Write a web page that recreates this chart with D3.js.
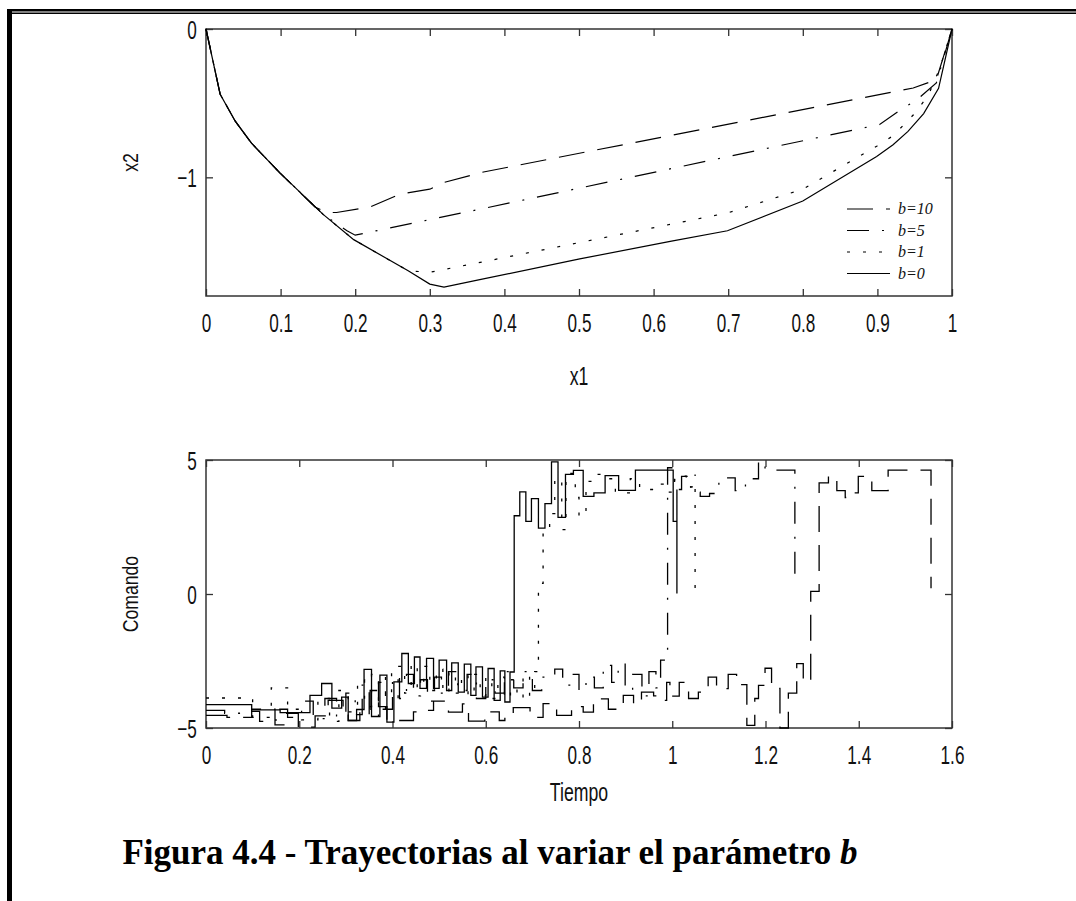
<!DOCTYPE html>
<meta charset="utf-8">
<style>
	body { margin: 0; background: #fff; }
	.tick text, .lab { font-family: "Liberation Sans", Arial, sans-serif; fill: #111; }
	.leg { font-family: "Liberation Serif", "Times New Roman", serif; font-style: italic; font-size: 16px; fill: #111; }
	.title { font-family: "Liberation Serif", "Times New Roman", serif; font-weight: bold; font-size: 35px; fill: #000; }
</style>
<body>
<svg id="fig" width="1076" height="901"></svg>

<script src="https://d3js.org/d3.v7.min.js"></script>
<script>
	// ---- upper plot: phase plane x1 / x2 ----
	var x1_b0 = [0, 0.019, 0.039, 0.061, 0.099, 0.157, 0.198, 0.271, 0.300, 0.319, 0.367, 0.501, 0.624, 0.699, 0.800, 0.899, 0.921, 0.941, 0.962, 0.982, 1.0];
	var x2_b0 = [0, -0.44, -0.62, -0.77, -0.97, -1.25, -1.42, -1.63, -1.72, -1.74, -1.69, -1.55, -1.43, -1.36, -1.16, -0.86, -0.78, -0.69, -0.57, -0.40, 0];

	var x1_b1 = [0, 0.019, 0.039, 0.061, 0.099, 0.157, 0.198, 0.271, 0.300, 0.381, 0.699, 0.800, 0.899, 0.921, 0.948, 0.968, 0.984, 1.0];
	var x2_b1 = [0, -0.44, -0.62, -0.77, -0.97, -1.25, -1.42, -1.63, -1.64, -1.56, -1.24, -1.08, -0.79, -0.72, -0.58, -0.45, -0.26, 0];

	var x1_b5 = [0, 0.019, 0.039, 0.061, 0.099, 0.157, 0.189, 0.200, 0.367, 0.700, 0.903, 0.935, 0.953, 0.979, 1.0];
	var x2_b5 = [0, -0.44, -0.62, -0.77, -0.97, -1.25, -1.36, -1.39, -1.215, -0.86, -0.644, -0.532, -0.477, -0.364, 0];

	var x1_b10 = [0, 0.019, 0.039, 0.061, 0.099, 0.146, 0.162, 0.175, 0.220, 0.260, 0.300, 0.318, 0.372, 0.948, 0.979, 1.0];
	var x2_b10 = [0, -0.44, -0.62, -0.77, -0.97, -1.20, -1.237, -1.237, -1.20, -1.114, -1.08, -1.036, -0.964, -0.398, -0.342, 0];

	// ---- lower plot: command u(t), piecewise constant ----
	var t_b0 = [0.000, 0.098, 0.159, 0.223, 0.248, 0.270, 0.291, 0.305, 0.323, 0.339, 0.355, 0.373, 0.388, 0.403, 0.420, 0.434, 0.447, 0.459, 0.473, 0.488, 0.500, 0.516, 0.527, 0.541, 0.554, 0.568, 0.579, 0.593, 0.605, 0.618, 0.631, 0.641, 0.652, 0.661, 0.673, 0.686, 0.698, 0.713, 0.727, 0.741, 0.755, 0.771, 0.788, 0.809, 0.832, 0.856, 0.885, 0.921, 1.002, 1.010, 1.010];
	var u_b0 = [-4.13, -4.32, -4.43, -3.78, -3.34, -4.26, -3.85, -4.72, -4.31, -2.81, -4.57, -3.03, -4.78, -3.28, -2.22, -3.34, -2.35, -3.52, -2.40, -3.52, -2.47, -3.60, -2.57, -3.66, -2.62, -3.78, -2.72, -3.85, -2.78, -3.97, -2.87, -4.03, -2.91, 2.92, 3.81, 2.71, 3.56, 2.46, 3.37, 4.93, 2.86, 4.46, 4.61, 3.64, 3.77, 4.42, 3.87, 4.62, 2.71, 3.90, 0.02];

	var t_b1 = [0.000, 0.100, 0.140, 0.175, 0.205, 0.240, 0.265, 0.285, 0.305, 0.325, 0.340, 0.355, 0.370, 0.385, 0.398, 0.412, 0.426, 0.440, 0.453, 0.467, 0.480, 0.494, 0.508, 0.521, 0.535, 0.548, 0.562, 0.575, 0.588, 0.600, 0.613, 0.626, 0.640, 0.653, 0.667, 0.680, 0.694, 0.705, 0.713, 0.723, 0.737, 0.748, 0.763, 0.772, 0.792, 0.800, 0.815, 0.830, 0.860, 0.878, 0.910, 0.930, 0.960, 0.985, 1.005, 1.030, 1.049, 1.049];
	var u_b1 = [-3.88, -4.60, -3.50, -4.30, -4.70, -3.90, -4.75, -3.60, -4.40, -3.20, -4.20, -3.00, -4.30, -2.90, -3.90, -2.70, -3.70, -2.60, -3.50, -2.70, -3.60, -2.80, -3.70, -2.90, -3.70, -3.00, -3.80, -3.00, -3.80, -3.10, -3.90, -3.10, -3.90, -3.20, -3.90, -3.00, -3.80, -2.90, 0.40, 2.45, 3.00, 4.30, 2.40, 4.50, 3.60, 2.90, 4.20, 4.46, 4.30, 3.77, 4.30, 3.90, 4.10, 3.80, 4.40, 4.00, 4.46, 0.15];

	var t_b5 = [0.000, 0.040, 0.098, 0.115, 0.150, 0.175, 0.205, 0.230, 0.255, 0.280, 0.300, 0.320, 0.335, 0.350, 0.370, 0.385, 0.400, 0.415, 0.430, 0.445, 0.460, 0.475, 0.490, 0.505, 0.520, 0.540, 0.560, 0.580, 0.600, 0.620, 0.640, 0.660, 0.680, 0.700, 0.720, 0.748, 0.765, 0.780, 0.800, 0.815, 0.833, 0.852, 0.870, 0.884, 0.899, 0.915, 0.935, 0.950, 0.965, 0.975, 0.990, 1.005, 1.020, 1.040, 1.060, 1.080, 1.100, 1.135, 1.157, 1.185, 1.199, 1.263, 1.263];
	var u_b5 = [-4.34, -4.45, -4.38, -4.75, -4.30, -4.60, -4.00, -4.65, -3.90, -4.55, -3.70, -4.50, -3.40, -4.60, -3.30, -4.30, -3.10, -3.90, -3.00, -3.80, -3.20, -4.00, -3.10, -3.70, -2.90, -3.60, -3.00, -3.90, -3.20, -3.70, -2.90, -3.50, -2.90, -3.60, -3.10, -2.80, -3.40, -3.00, -3.60, -3.10, -3.50, -2.66, -3.30, -2.62, -3.60, -3.00, -3.80, -2.90, -3.50, -2.47, 4.71, 3.90, 4.39, 3.80, 3.64, 3.75, 4.33, 3.86, 4.30, 4.95, 4.62, 4.62, 0.59];

	var t_b10 = [0.000, 0.045, 0.098, 0.148, 0.173, 0.198, 0.234, 0.262, 0.294, 0.305, 0.330, 0.352, 0.370, 0.388, 0.445, 0.455, 0.488, 0.520, 0.550, 0.563, 0.598, 0.629, 0.641, 0.659, 0.695, 0.723, 0.752, 0.784, 0.809, 0.831, 0.838, 0.863, 0.895, 0.917, 0.934, 0.960, 0.967, 0.988, 0.995, 1.015, 1.035, 1.056, 1.077, 1.095, 1.120, 1.138, 1.160, 1.177, 1.185, 1.199, 1.213, 1.231, 1.249, 1.267, 1.281, 1.297, 1.315, 1.335, 1.353, 1.371, 1.374, 1.399, 1.428, 1.463, 1.555, 1.555];
	var u_b10 = [-4.53, -4.60, -4.30, -4.88, -4.45, -4.97, -4.55, -3.97, -4.45, -4.72, -4.30, -3.60, -4.20, -4.72, -4.40, -4.34, -4.00, -4.41, -4.10, -4.74, -4.40, -4.72, -4.50, -4.24, -4.60, -4.09, -4.53, -4.20, -4.41, -3.95, -3.91, -4.30, -3.78, -4.10, -3.66, -3.80, -3.97, -3.30, -3.81, -3.30, -3.90, -3.66, -3.10, -3.53, -3.00, -3.38, -4.90, -3.90, -3.41, -2.77, -3.52, -5.00, -3.70, -2.60, -3.28, 0.10, 4.15, 4.39, 3.86, 3.60, 3.77, 4.39, 3.86, 4.62, 4.62, 0.21];

	var legendLabels = ["b=10", "b=5", "b=1", "b=0"];
	var dashes = ["26,13", "22,13,2,13", "3,13", null];

	var xTicksTop = [0, 0.1, 0.2, 0.3, 0.4, 0.5, 0.6, 0.7, 0.8, 0.9, 1];
	var yTicksTop = [0, -1];
	var xTicksBot = [0, 0.2, 0.4, 0.6, 0.8, 1, 1.2, 1.4, 1.6];
	var yTicksBot = [-5, 0, 5];

	var svg = d3.select("#fig");

	// page frame
	svg.append("rect").attr("x", 7).attr("y", 9).attr("width", 1069).attr("height", 2.5).attr("fill", "#000");
	svg.append("rect").attr("x", 12).attr("y", 12.5).attr("width", 1064).attr("height", 1.5).attr("fill", "#000");
	svg.append("rect").attr("x", 7).attr("y", 9).attr("width", 5).attr("height", 892).attr("fill", "#000");

	var fmt = function(d) { return String(+d.toFixed(1)); };
	var narrow = "scale(0.66,1)";

	function panel(xd, yd, top, bottom, xt, yt, xlab, ylab, xlabY) {
		var x = d3.scaleLinear().domain(xd).range([206, 952]);
		var y = d3.scaleLinear().domain(yd).range([bottom, top]);
		var g = svg.append("g");

		g.append("rect")
			.attr("x", 206).attr("y", top)
			.attr("width", 746).attr("height", bottom - top)
			.attr("fill", "none").attr("stroke", "#333").attr("stroke-width", 1.5);

		var ax = g.append("g").attr("transform", "translate(0," + bottom + ")")
			.call(d3.axisBottom(x).tickValues(xt).tickFormat(fmt).tickSizeInner(-7).tickSizeOuter(0).tickPadding(18));
		g.append("g").attr("transform", "translate(0," + top + ")")
			.call(d3.axisTop(x).tickValues(xt).tickFormat("").tickSizeInner(-7).tickSizeOuter(0));
		var ay = g.append("g").attr("transform", "translate(206,0)")
			.call(d3.axisLeft(y).tickValues(yt).tickFormat(d3.format("d")).tickSizeInner(-7).tickSizeOuter(0).tickPadding(0));
		g.append("g").attr("transform", "translate(952,0)")
			.call(d3.axisRight(y).tickValues(yt).tickFormat("").tickSizeInner(-7).tickSizeOuter(0));

		g.selectAll(".domain").remove();
		g.selectAll(".tick line").attr("stroke", "#333").attr("stroke-width", 1.3);
		g.selectAll(".tick text").attr("font-size", 26).attr("font-family", null);
		ax.selectAll(".tick text").attr("transform", narrow);
		ay.selectAll(".tick text").attr("x", -14).attr("dy", "0.36em").attr("transform", narrow);

		g.append("text").attr("class", "lab")
			.attr("transform", "translate(579," + xlabY + ") scale(0.68,1)")
			.attr("text-anchor", "middle").attr("dy", "0.36em")
			.attr("font-size", 26).text(xlab);
		g.append("text").attr("class", "lab")
			.attr("transform", "translate(130," + ((top + bottom) / 2) + ") rotate(-90) scale(0.8,1)")
			.attr("text-anchor", "middle").attr("dy", "0.36em")
			.attr("font-size", 22).text(ylab);
		return {x: x, y: y, g: g};
	}

	// upper panel
	var p1 = panel([0, 1], [-1.8, 0], 29, 296, xTicksTop, yTicksTop, "x1", "x2", 376);
	var line1 = d3.line().x(function(d) { return p1.x(d[0]); }).y(function(d) { return p1.y(d[1]); });
	var topSeries = [[x1_b10, x2_b10], [x1_b5, x2_b5], [x1_b1, x2_b1], [x1_b0, x2_b0]];
	topSeries.forEach(function(s, i) {
		p1.g.append("path")
			.datum(d3.zip(s[0], s[1]))
			.attr("d", line1)
			.attr("fill", "none").attr("stroke", "#000").attr("stroke-width", 1.2)
			.attr("stroke-dasharray", dashes[i]);
	});

	// legend
	var lg = p1.g.append("g").attr("transform", "translate(847,209)");
	legendLabels.forEach(function(lab, i) {
		var r = lg.append("g").attr("transform", "translate(0," + (i * 21.5) + ")");
		r.append("line").attr("x1", 0).attr("x2", 43).attr("y1", 0).attr("y2", 0)
			.attr("stroke", "#000").attr("stroke-width", 1.1).attr("stroke-dasharray", dashes[i]);
		r.append("text").attr("class", "leg").attr("x", 51).attr("dy", "0.33em").text(lab);
	});

	// lower panel
	var p2 = panel([0, 1.6], [-5, 5], 460, 728, xTicksBot, yTicksBot, "Tiempo", "Comando", 792);
	var line2 = d3.line().curve(d3.curveStepAfter)
		.x(function(d) { return p2.x(d[0]); }).y(function(d) { return p2.y(d[1]); });
	var botSeries = [[t_b10, u_b10], [t_b5, u_b5], [t_b1, u_b1], [t_b0, u_b0]];
	botSeries.forEach(function(s, i) {
		p2.g.append("path")
			.datum(d3.zip(s[0], s[1]))
			.attr("d", line2)
			.attr("fill", "none").attr("stroke", "#000").attr("stroke-width", 1.3)
			.attr("stroke-dasharray", dashes[i]);
	});

	// caption
	var cap = svg.append("text").attr("class", "title")
		.attr("x", 490).attr("y", 864).attr("text-anchor", "middle");
	cap.append("tspan").text("Figura 4.4 - Trayectorias al variar el parámetro ");
	cap.append("tspan").attr("font-style", "italic").text("b");
</script>
</body>
